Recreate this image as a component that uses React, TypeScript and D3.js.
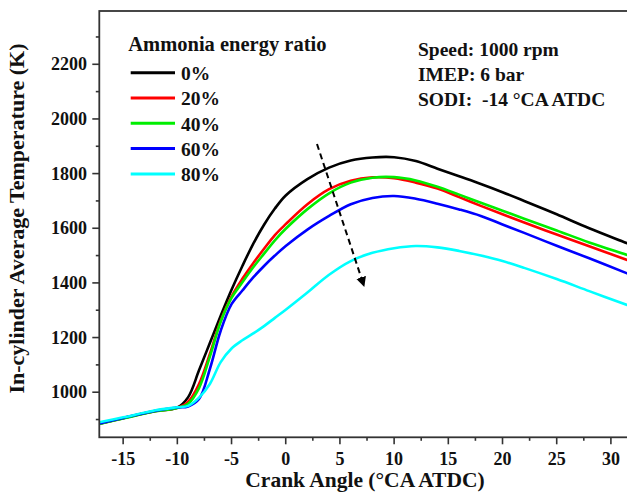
import React from "react";
import * as d3 from "d3";

const crankAngle = [-17.2, -15, -12, -10, -9, -8, -7, -6, -5, -4, -3, -2, -1, 0, 2, 4, 6, 8, 10, 12, 14, 16, 18, 20, 22, 25, 28, 31.5, 33];

const temp0 = [885, 905, 931, 944, 982, 1080, 1180, 1280, 1375, 1462, 1543, 1613, 1672, 1720, 1780, 1822, 1848, 1859, 1860, 1846, 1818, 1790, 1762, 1732, 1700, 1651, 1600, 1545, 1521];
const temp20 = [885, 905, 931, 943, 965, 1030, 1140, 1262, 1350, 1415, 1472, 1525, 1575, 1615, 1688, 1743, 1774, 1786, 1783, 1767, 1745, 1714, 1682, 1651, 1621, 1577, 1534, 1484, 1462];
const temp40 = [884, 904, 930, 942, 958, 1015, 1130, 1258, 1345, 1402, 1457, 1507, 1556, 1598, 1670, 1728, 1767, 1785, 1787, 1775, 1752, 1723, 1693, 1664, 1635, 1592, 1548, 1502, 1482];
const temp60 = [886, 906, 932, 944, 948, 975, 1085, 1225, 1322, 1372, 1420, 1462, 1500, 1535, 1595, 1645, 1688, 1711, 1718, 1708, 1690, 1669, 1645, 1614, 1583, 1536, 1490, 1435, 1412];
const temp80 = [890, 908, 934, 945, 950, 980, 1030, 1110, 1160, 1190, 1215, 1242, 1272, 1302, 1365, 1430, 1480, 1510, 1527, 1535, 1530, 1517, 1500, 1480, 1455, 1414, 1370, 1319, 1297];

const seriesLabels = ["0%", "20%", "40%", "60%", "80%"];
const seriesColors = ["#000000", "#ff0000", "#00ee00", "#0000ff", "#00ffff"];
const seriesValues = [temp0, temp20, temp40, temp60, temp80];

const xMajorTicks = [-15, -10, -5, 0, 5, 10, 15, 20, 25, 30];
const xMinorTicks = [-12.5, -7.5, -2.5, 2.5, 7.5, 12.5, 17.5, 22.5, 27.5, 32.5];
const yMajorTicks = [1000, 1200, 1400, 1600, 1800, 2000, 2200];
const yMinorTicks = [900, 1100, 1300, 1500, 1700, 1900, 2100, 2300];

const infoLines = ["Speed: 1000 rpm", "IMEP: 6 bar", "SODI:  -14 °CA ATDC"];

const W = 627;
const H = 499;
const left = 99.3;
const top = 11;
const bottom = 437.3;
const right = 638;

const FONT = "'Liberation Serif', 'Times New Roman', serif";

export default function App() {
  const x = d3.scaleLinear().domain([-17.2, 32.5]).range([left, right]);
  const y = d3.scaleLinear().domain([835, 2395]).range([bottom, top]);

  const line = d3
    .line<number>()
    .x((_, i) => x(crankAngle[i]))
    .y((d) => y(d))
    .curve(d3.curveCatmullRom.alpha(0.5));

  const axisColor = "#333";

  return (
    <div style={{ position: "fixed", left: 0, top: 0, width: W, height: H, background: "#fff" }}>
      <svg width={W} height={H} style={{ display: "block" }} fontFamily={FONT}>
        <defs>
          <clipPath id="plotClip">
            <rect x={left} y={top} width={right - left} height={bottom - top} />
          </clipPath>
          <marker id="arrowHead" viewBox="0 0 10 10" refX="9" refY="5" markerWidth="5" markerHeight="6" orient="auto" markerUnits="strokeWidth">
            <path d="M0,0 L10,5 L0,10 Z" fill="#000" />
          </marker>
        </defs>

        <g clipPath="url(#plotClip)">
          {seriesValues.map((vals, i) => (
            <path key={i} d={line(vals) || ""} fill="none" stroke={seriesColors[i]} strokeWidth={2.6} strokeLinejoin="round" />
          ))}
        </g>

        <rect x={left} y={top} width={right - left} height={bottom - top} fill="none" stroke={axisColor} strokeWidth={1.8} />

        {xMajorTicks.map((t) => (
          <g key={"xM" + t}>
            <line x1={x(t)} x2={x(t)} y1={bottom} y2={bottom + 7} stroke={axisColor} strokeWidth={1.6} />
            <text x={x(t)} y={465} textAnchor="middle" fontSize={18} fontWeight="bold" fill="#111">
              {t}
            </text>
          </g>
        ))}
        {xMinorTicks.map((t) => (
          <line key={"xm" + t} x1={x(t)} x2={x(t)} y1={bottom} y2={bottom + 3.5} stroke={axisColor} strokeWidth={1.6} />
        ))}

        {yMajorTicks.map((t) => (
          <g key={"yM" + t}>
            <line x1={left - 7} x2={left} y1={y(t)} y2={y(t)} stroke={axisColor} strokeWidth={1.6} />
            <text x={87} y={y(t) + 6} textAnchor="end" fontSize={18} fontWeight="bold" fill="#111">
              {t}
            </text>
          </g>
        ))}
        {yMinorTicks.map((t) => (
          <line key={"ym" + t} x1={left - 3.5} x2={left} y1={y(t)} y2={y(t)} stroke={axisColor} strokeWidth={1.6} />
        ))}

        <text x={365} y={487} textAnchor="middle" fontSize={21.5} fontWeight="bold" fill="#111">
          Crank Angle (°CA ATDC)
        </text>
        <text transform={`translate(24,218.5) rotate(-90)`} textAnchor="middle" fontSize={22} fontWeight="bold" fill="#111">
          In-cylinder Average Temperature (K)
        </text>

        <text x={128.3} y={50.7} fontSize={20.5} fontWeight="bold" fill="#111">
          Ammonia energy ratio
        </text>
        {seriesLabels.map((lab, i) => {
          const ly = 72.7 + i * 25.3;
          return (
            <g key={lab}>
              <line x1={130.7} x2={175} y1={ly} y2={ly} stroke={seriesColors[i]} strokeWidth={3} />
              <text x={181} y={ly + 7.3} fontSize={19.5} fontWeight="bold" fill="#111">
                {lab}
              </text>
            </g>
          );
        })}

        {infoLines.map((s, i) => (
          <text key={s} x={418} y={56 + i * 25} fontSize={19.5} fontWeight="bold" fill="#111" style={{ whiteSpace: "pre" }}>
            {s}
          </text>
        ))}

        <line x1={317} y1={144} x2={364} y2={286} stroke="#000" strokeWidth={2} strokeDasharray="6,4" markerEnd="url(#arrowHead)" />
      </svg>
    </div>
  );
}
